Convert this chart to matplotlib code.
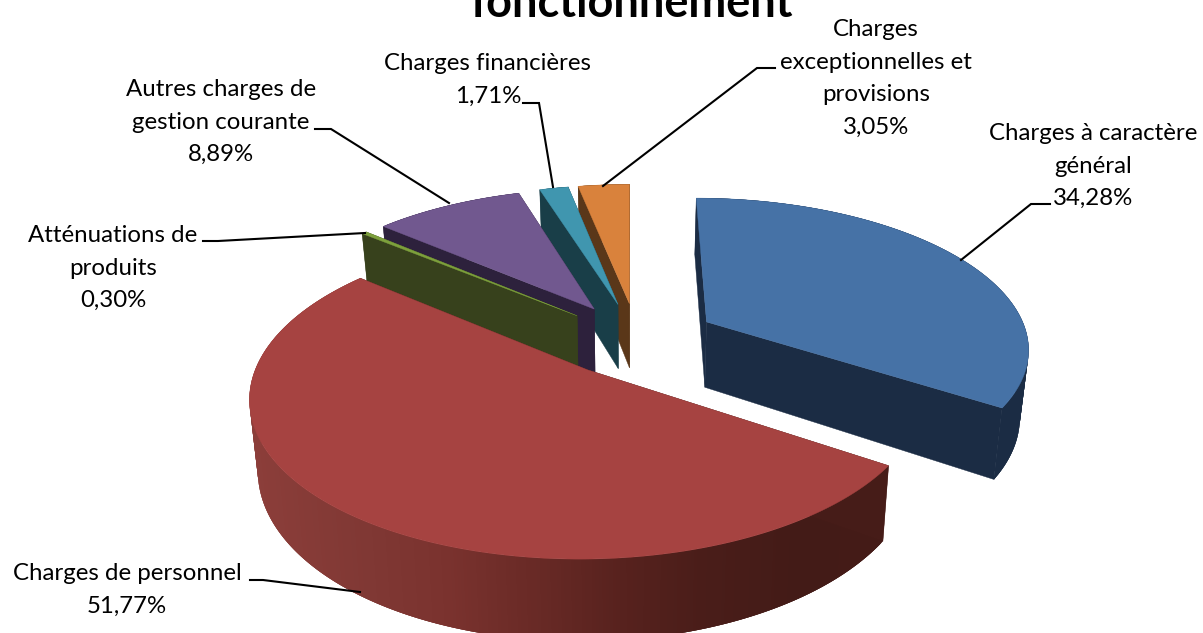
import numpy as np
import matplotlib
matplotlib.use("Agg")
import matplotlib.pyplot as plt
from matplotlib.patches import Polygon
from matplotlib.collections import PolyCollection

plt.rcParams['font.family'] = ['Lato', 'DejaVu Sans']

# --- data ---
categories = ["Charges à caractère\ngénéral", "Charges de personnel", "Atténuations de\nproduits",
              "Autres charges de\ngestion courante", "Charges financières",
              "Charges\nexceptionnelles et\nprovisions"]
values = [34.28, 51.77, 0.30, 8.89, 1.71, 3.05]
title_text = "fonctionnement"

# --- style ---
top_colors = ["#4672A6", "#A64341", "#7DA03C", "#71588F", "#4096AF", "#D9823C"]
side_colors = ["#1B2C44", "#461C18", "#37411C", "#2D213C", "#193E48", "#5A3719"]
red_shade_x = [250, 366, 450, 535, 620, 703, 800, 885]
red_shade_rgb = np.array([[140, 62, 58], [128, 56, 52], [122, 50, 46], [105, 42, 38],
                          [88, 34, 30], [74, 29, 25], [67, 27, 23], [68, 27, 23]]) / 255
draw_order = [5, 4, 3, 2, 0, 1]
label_xy = [(1093, 134), (127, 574), (113, 236), (221, 90), (488, 64), (876, 30)]
leaders = [[(961, 260), (1031, 204), (1050, 204)],
           [(360, 592), (263, 580), (250, 580)],
           [(365, 233), (218, 241), (203, 241)],
           [(449, 203), (331, 129), (315, 129)],
           [(553, 187), (539, 103), (523, 103)],
           [(603, 186), (757, 68), (775, 68)]]

# perspective camera parameters
VX, VY, H, P, R, ZH, ZS = 630.0, -600.0, 945.0, 0.159, 324.0, 67.0, 0.978
CX, CY, EXPLODE = 0.022, 0.039, 0.25


def project(X, Y, bottom=False):
    X, Y = np.asarray(X, float), np.asarray(Y, float)
    d = 1 + P * Y
    if bottom:
        return np.column_stack([VX + X * R / d * ZS, VY + (H + ZH) / d])
    return np.column_stack([VX + X * R / d, VY + H / d])


fig = plt.figure(figsize=(12.03, 6.33), dpi=100)
ax = fig.add_axes([0, 0, 1, 1])
ax.set_xlim(0, 1203)
ax.set_ylim(633, 0)
ax.axis('off')

shares = np.array(values) / sum(values) * 2 * np.pi
ends = np.cumsum(shares)
starts = ends - shares

for i in draw_order:
    a0, a1 = starts[i], ends[i]
    mid = (a0 + a1) / 2
    ox, oy = CX + EXPLODE * np.sin(mid), CY + EXPLODE * np.cos(mid)
    t = np.linspace(a0, a1, max(6, int(np.degrees(a1 - a0) * 2)))
    ax_x, ax_y = ox + np.sin(t), oy + np.cos(t)
    top_arc = project(ax_x, ax_y)
    bot_arc = project(ax_x, ax_y, True)
    apex_t = project([ox], [oy])
    apex_b = project([ox], [oy], True)
    # outer wall: overlapping strips so no seams or fold holes appear
    last = len(t) - 1
    quads = [[top_arc[k], top_arc[min(k + 3, last)], bot_arc[min(k + 3, last)], bot_arc[k]]
             for k in range(last)]
    if i == 1:
        xm = top_arc[:-1, 0]
        cols = np.column_stack([np.interp(xm, red_shade_x, red_shade_rgb[:, c]) for c in range(3)])
    else:
        cols = [side_colors[i]] * len(quads)
    ax.add_collection(PolyCollection(quads, facecolors=cols, edgecolors='none'))
    # cut faces
    for k in (0, -1):
        ax.add_patch(Polygon([apex_t[0], top_arc[k], bot_arc[k], apex_b[0]],
                             closed=True, fc=side_colors[i], ec=side_colors[i], lw=0.3))
    # top face
    ax.add_patch(Polygon(np.vstack([apex_t, top_arc]), closed=True,
                         fc=top_colors[i], ec=top_colors[i], lw=0.3))

for path in leaders:
    xs, ys = zip(*path)
    ax.plot(xs, ys, color='black', lw=1.5, solid_joinstyle='miter')

for name, val, (x, y) in zip(categories, values, label_xy):
    lines = name.split("\n") + [f"{val:.2f}%".replace(".", ",")]
    for n, line in enumerate(lines):
        ax.text(x, y + n * 32.4, line, ha='center', va='center', fontsize=17.3, color='black')

ax.text(631, 17, title_text, ha='center', va='baseline', fontsize=32.5, fontweight='bold', color='black')

fig.savefig("out.png", dpi=100)
